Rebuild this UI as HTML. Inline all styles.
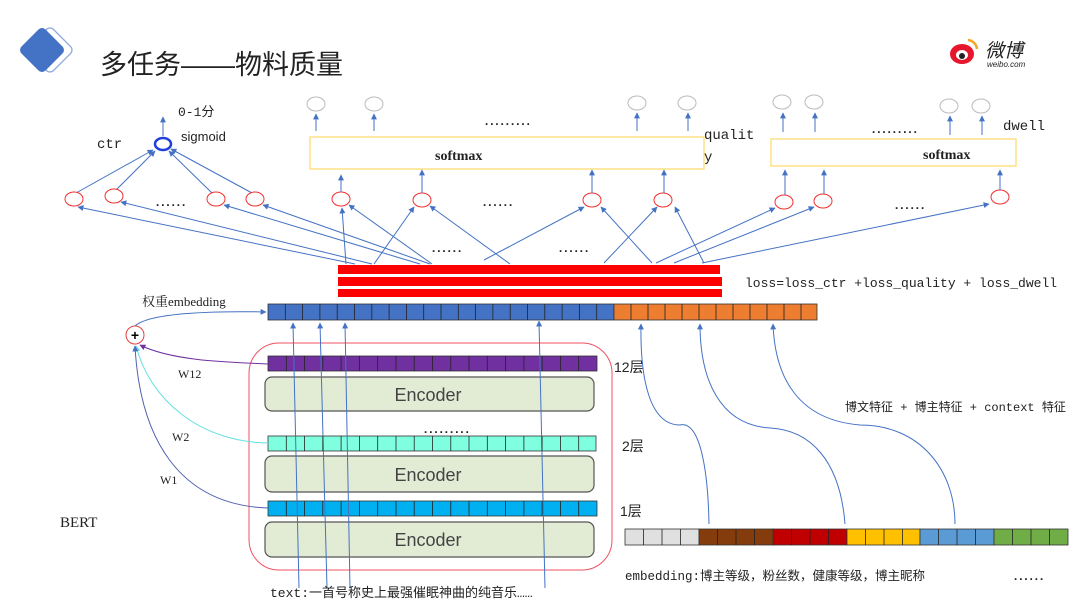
<!DOCTYPE html>
<html><head><meta charset="utf-8"><style>
body{margin:0;background:#fff;width:1080px;height:604px;overflow:hidden}
svg{display:block}
.m{font-family:"Liberation Mono","Noto Sans CJK SC",monospace}
.s{font-family:"Liberation Sans","Noto Sans CJK SC",sans-serif}
.r{font-family:"Liberation Serif","Noto Serif CJK SC",serif}
</style></head><body>
<svg width="1080" height="604" viewBox="0 0 1080 604" xmlns="http://www.w3.org/2000/svg">
<defs>
<marker id="a" viewBox="0 0 10 10" refX="9" refY="5" markerWidth="6" markerHeight="6" orient="auto-start-reverse"><path d="M0,0L10,5L0,10z" fill="#4472c4"/></marker>
<marker id="ap" viewBox="0 0 10 10" refX="9" refY="5" markerWidth="6" markerHeight="6" orient="auto"><path d="M0,0L10,5L0,10z" fill="#7030a0"/></marker>
<marker id="ac" viewBox="0 0 10 10" refX="9" refY="5" markerWidth="6" markerHeight="6" orient="auto"><path d="M0,0L10,5L0,10z" fill="#66e0e0"/></marker>
</defs>
<!-- title icon -->
<rect x="33" y="33" width="34" height="34" rx="5" transform="rotate(45 50 50)" fill="none" stroke="#4472c4" stroke-width="1.3" opacity="0.6"/>
<rect x="25" y="33" width="34" height="34" rx="5" transform="rotate(45 42 50)" fill="#4472c4"/>
<text x="100" y="74" class="s" font-size="27" fill="#222">多任务——物料质量</text>
<!-- weibo logo -->
<ellipse cx="962" cy="54" rx="12" ry="10" fill="#e6162d"/>
<ellipse cx="962" cy="55" rx="6" ry="5" fill="#fff"/><circle cx="962" cy="56" r="3" fill="#222"/>
<path d="M968,40 a10,10 0 0 1 9,9" stroke="#f5a623" stroke-width="2.5" fill="none"/>
<text x="985" y="57" class="s" font-size="19" font-style="italic" fill="#222">微博</text>
<text x="987" y="67" class="s" font-size="8" font-style="italic" fill="#222">weibo.com</text>

<!-- ctr -->
<text x="97" y="148" class="m" font-size="14" fill="#222">ctr</text>
<text x="178" y="116" class="m" font-size="13" fill="#222">0-1分</text>
<text x="181" y="141" class="s" font-size="13" fill="#222">sigmoid</text>
<ellipse cx="163" cy="144" rx="8" ry="6" fill="#fff" stroke="#1f3fdc" stroke-width="2.5"/>
<line x1="163" y1="136" x2="163" y2="117" stroke="#4472c4" marker-end="url(#a)"/>
<g stroke="#4472c4" stroke-width="1" fill="none">
<line x1="76" y1="193" x2="153" y2="150" marker-end="url(#a)"/>
<line x1="116" y1="190" x2="155" y2="151" marker-end="url(#a)"/>
<line x1="212" y1="193" x2="169" y2="151" marker-end="url(#a)"/>
<line x1="252" y1="193" x2="171" y2="149" marker-end="url(#a)"/>
</g>
<g fill="#fff" stroke="#f03030" stroke-width="1">
<ellipse cx="74" cy="199" rx="9" ry="7"/><ellipse cx="114" cy="196" rx="9" ry="7"/>
<ellipse cx="216" cy="199" rx="9" ry="7"/><ellipse cx="255" cy="199" rx="9" ry="7"/>
<ellipse cx="341" cy="199" rx="9" ry="7"/><ellipse cx="422" cy="200" rx="9" ry="7"/>
<ellipse cx="592" cy="200" rx="9" ry="7"/><ellipse cx="663" cy="200" rx="9" ry="7"/>
<ellipse cx="784" cy="202" rx="9" ry="7"/><ellipse cx="823" cy="201" rx="9" ry="7"/>
<ellipse cx="1000" cy="197" rx="9" ry="7"/>
</g>
<g class="m" font-size="12" fill="#222" font-weight="bold" letter-spacing="-2">
<text x="154" y="206">......</text><text x="481" y="206">......</text>
<text x="893" y="209">......</text><text x="430" y="252">......</text><text x="557" y="252">......</text>
<text x="483" y="125">.........</text><text x="870" y="133">.........</text>
<text x="1012" y="580">......</text><text x="422" y="433">.........</text>
</g>
<!-- softmax boxes -->
<rect x="310" y="137" width="394" height="32" fill="#fff" stroke="#ffd966" stroke-width="1.2"/>
<text x="435" y="160" class="r" font-size="14" font-weight="bold" fill="#222">softmax</text>
<text x="704" y="139" class="m" font-size="14" fill="#222">qualit</text>
<text x="704" y="161" class="m" font-size="14" fill="#222">y</text>
<rect x="771" y="139" width="245" height="27" fill="#fff" stroke="#ffd966" stroke-width="1.2"/>
<text x="923" y="159" class="r" font-size="14" font-weight="bold" fill="#222">softmax</text>
<text x="1003" y="130" class="m" font-size="14" fill="#222">dwell</text>
<g fill="#fff" stroke="#bbb" stroke-width="1">
<ellipse cx="316" cy="104" rx="9" ry="7"/><ellipse cx="374" cy="104" rx="9" ry="7"/>
<ellipse cx="637" cy="103" rx="9" ry="7"/><ellipse cx="687" cy="103" rx="9" ry="7"/>
<ellipse cx="782" cy="102" rx="9" ry="7"/><ellipse cx="814" cy="102" rx="9" ry="7"/>
<ellipse cx="949" cy="106" rx="9" ry="7"/><ellipse cx="981" cy="106" rx="9" ry="7"/>
</g>
<g stroke="#4472c4" stroke-width="1" fill="none">
<line x1="316" y1="131" x2="316" y2="114" marker-end="url(#a)"/>
<line x1="374" y1="131" x2="374" y2="114" marker-end="url(#a)"/>
<line x1="637" y1="131" x2="637" y2="113" marker-end="url(#a)"/>
<line x1="688" y1="131" x2="688" y2="113" marker-end="url(#a)"/>
<line x1="783" y1="132" x2="783" y2="113" marker-end="url(#a)"/>
<line x1="815" y1="132" x2="815" y2="113" marker-end="url(#a)"/>
<line x1="950" y1="135" x2="950" y2="116" marker-end="url(#a)"/>
<line x1="982" y1="135" x2="982" y2="116" marker-end="url(#a)"/>
<line x1="341" y1="192" x2="341" y2="175" marker-end="url(#a)"/>
<line x1="422" y1="193" x2="422" y2="170" marker-end="url(#a)"/>
<line x1="592" y1="193" x2="592" y2="170" marker-end="url(#a)"/>
<line x1="664" y1="193" x2="664" y2="170" marker-end="url(#a)"/>
<line x1="785" y1="195" x2="785" y2="170" marker-end="url(#a)"/>
<line x1="824" y1="194" x2="824" y2="170" marker-end="url(#a)"/>
<line x1="1000" y1="190" x2="1000" y2="170" marker-end="url(#a)"/>
<line x1="355" y1="264" x2="78" y2="207" marker-end="url(#a)"/>
<line x1="372" y1="264" x2="121" y2="202" marker-end="url(#a)"/>
<line x1="420" y1="264" x2="224" y2="205" marker-end="url(#a)"/>
<line x1="430" y1="264" x2="263" y2="205" marker-end="url(#a)"/>
<line x1="346" y1="264" x2="342" y2="208" marker-end="url(#a)"/>
<line x1="432" y1="264" x2="349" y2="205" marker-end="url(#a)"/>
<line x1="374" y1="264" x2="414" y2="207" marker-end="url(#a)"/>
<line x1="510" y1="264" x2="430" y2="206" marker-end="url(#a)"/>
<line x1="484" y1="260" x2="584" y2="207" marker-end="url(#a)"/>
<line x1="652" y1="263" x2="601" y2="207" marker-end="url(#a)"/>
<line x1="604" y1="263" x2="657" y2="207" marker-end="url(#a)"/>
<line x1="704" y1="263" x2="675" y2="207" marker-end="url(#a)"/>
<line x1="656" y1="263" x2="775" y2="208" marker-end="url(#a)"/>
<line x1="674" y1="263" x2="814" y2="207" marker-end="url(#a)"/>
<line x1="702" y1="263" x2="989" y2="204" marker-end="url(#a)"/>
</g>
<!-- red bars -->
<rect x="338" y="265" width="382" height="9" fill="#ff0000"/>
<rect x="338" y="277" width="384" height="9" fill="#ff0000"/>
<rect x="338" y="289" width="384" height="8" fill="#ff0000"/>
<text x="745" y="287" class="m" font-size="13" fill="#222">loss=loss_ctr +loss_quality + loss_dwell</text>

<!-- token bar -->
<g stroke="#333" stroke-width="0.8">
<rect x="268" y="304" width="346" height="16" fill="#4472c4"/>
<rect x="614" y="304" width="203" height="16" fill="#ed7d31"/>
</g>
<text x="142" y="306" class="r" font-size="13" fill="#222">权重embedding</text>
<circle cx="135" cy="335" r="9" fill="#fff" stroke="#e04040"/>
<text x="135" y="340" text-anchor="middle" class="s" font-size="14" font-weight="bold" fill="#000">+</text>
<path d="M135,326 C150,312 220,311 266,312" stroke="#4472c4" fill="none" marker-end="url(#a)"/>

<!-- BERT box -->
<rect x="249" y="343" width="363" height="227" rx="30" fill="none" stroke="#f05060" stroke-width="1"/>
<g stroke="#333" stroke-width="0.8">
<rect x="268" y="356" width="329" height="15" fill="#7030a0"/>
<rect x="268" y="436" width="328" height="15" fill="#7fffe0"/>
<rect x="268" y="501" width="329" height="15" fill="#00b0f0"/>
</g>
<g fill="#e2ecd5" stroke="#555" stroke-width="1.2">
<rect x="265" y="377" width="329" height="34" rx="7"/>
<rect x="265" y="456" width="329" height="36" rx="7"/>
<rect x="265" y="522" width="329" height="35" rx="7"/>
</g>
<g class="s" font-size="18" fill="#444" text-anchor="middle">
<text x="428" y="401">Encoder</text><text x="428" y="481">Encoder</text><text x="428" y="546">Encoder</text>
</g>
<g class="s" font-size="14" fill="#222">
<text x="614" y="372">12层</text><text x="622" y="451">2层</text><text x="620" y="516">1层</text>
</g>
<g class="r" font-size="12" fill="#222">
<text x="178" y="378">W12</text><text x="172" y="441">W2</text><text x="160" y="484">W1</text>
</g>
<text x="60" y="527" class="r" font-size="15" fill="#222">BERT</text>
<path d="M268,364 C220,362 170,360 140,345" stroke="#7030a0" fill="none" marker-end="url(#ap)"/>
<path d="M268,443 C200,442 150,400 136,346" stroke="#66e0e0" fill="none" marker-end="url(#ac)"/>
<path d="M268,508 C180,505 140,440 135,346" stroke="#5060b0" fill="none" marker-end="url(#a)"/>
<g stroke="#4472c4" fill="none">
<line x1="299" y1="588" x2="293" y2="323" marker-end="url(#a)"/>
<line x1="327" y1="588" x2="320" y2="323" marker-end="url(#a)"/>
<line x1="350" y1="588" x2="345" y2="323" marker-end="url(#a)"/>
<line x1="545" y1="588" x2="539" y2="321" marker-end="url(#a)"/>
</g>
<text x="270" y="597" class="m" font-size="13" fill="#222">text:一首号称史上最强催眠神曲的纯音乐……</text>

<!-- feature bar -->
<g stroke="#333" stroke-width="0.8">
<rect x="625" y="529" width="74" height="16" fill="#e0e0e0"/>
<rect x="699" y="529" width="74" height="16" fill="#843c0c"/>
<rect x="773" y="529" width="74" height="16" fill="#c00000"/>
<rect x="847" y="529" width="73" height="16" fill="#ffc000"/>
<rect x="920" y="529" width="74" height="16" fill="#5b9bd5"/>
<rect x="994" y="529" width="74" height="16" fill="#70ad47"/>
</g>
<text x="625" y="580" class="m" font-size="12.5" fill="#222">embedding:博主等级，粉丝数，健康等级，博主昵称</text>
<g stroke="#4472c4" fill="none">
<path d="M709,524 C708,470 700,420 680,425 C650,425 640,380 641,324" marker-end="url(#a)"/>
<path d="M845,524 C840,460 810,430 770,428 C720,425 700,380 700,324" marker-end="url(#a)"/>
<path d="M955,524 C955,470 920,425 860,425 C800,420 775,380 773,324" marker-end="url(#a)"/>
</g>
<text x="845" y="411" class="m" font-size="12" fill="#222">博文特征 + 博主特征 + context 特征</text>

<!-- cell dividers -->
<g stroke="#222" stroke-width="0.8">
<path d="M285.3,304v16M302.6,304v16M319.9,304v16M337.2,304v16M354.5,304v16M371.8,304v16M389.1,304v16M406.4,304v16M423.7,304v16M441,304v16M458.3,304v16M475.6,304v16M492.9,304v16M510.2,304v16M527.5,304v16M544.8,304v16M562.1,304v16M579.4,304v16M596.7,304v16M631,304v16M648,304v16M665,304v16M682,304v16M699,304v16M716,304v16M733,304v16M750,304v16M767,304v16M784,304v16M801,304v16"/>
<path d="M286.3,356v15M304.6,356v15M322.8,356v15M341.1,356v15M359.4,356v15M377.7,356v15M396,356v15M414.2,356v15M432.5,356v15M450.8,356v15M469,356v15M487.3,356v15M505.6,356v15M523.9,356v15M542.1,356v15M560.4,356v15M578.7,356v15"/>
<path d="M286.3,436v15M304.6,436v15M322.8,436v15M341.1,436v15M359.4,436v15M377.7,436v15M396,436v15M414.2,436v15M432.5,436v15M450.8,436v15M469,436v15M487.3,436v15M505.6,436v15M523.9,436v15M542.1,436v15M560.4,436v15M578.7,436v15"/>
<path d="M286.3,501v15M304.6,501v15M322.8,501v15M341.1,501v15M359.4,501v15M377.7,501v15M396,501v15M414.2,501v15M432.5,501v15M450.8,501v15M469,501v15M487.3,501v15M505.6,501v15M523.9,501v15M542.1,501v15M560.4,501v15M578.7,501v15"/>
<path d="M643.5,529v16M662,529v16M680.5,529v16M717.5,529v16M736,529v16M754.5,529v16M791.5,529v16M810,529v16M828.5,529v16M865.5,529v16M884,529v16M902.5,529v16M938.5,529v16M957,529v16M975.5,529v16M1012.5,529v16M1031,529v16M1049.5,529v16"/>
</g>
</svg>
</body></html>
